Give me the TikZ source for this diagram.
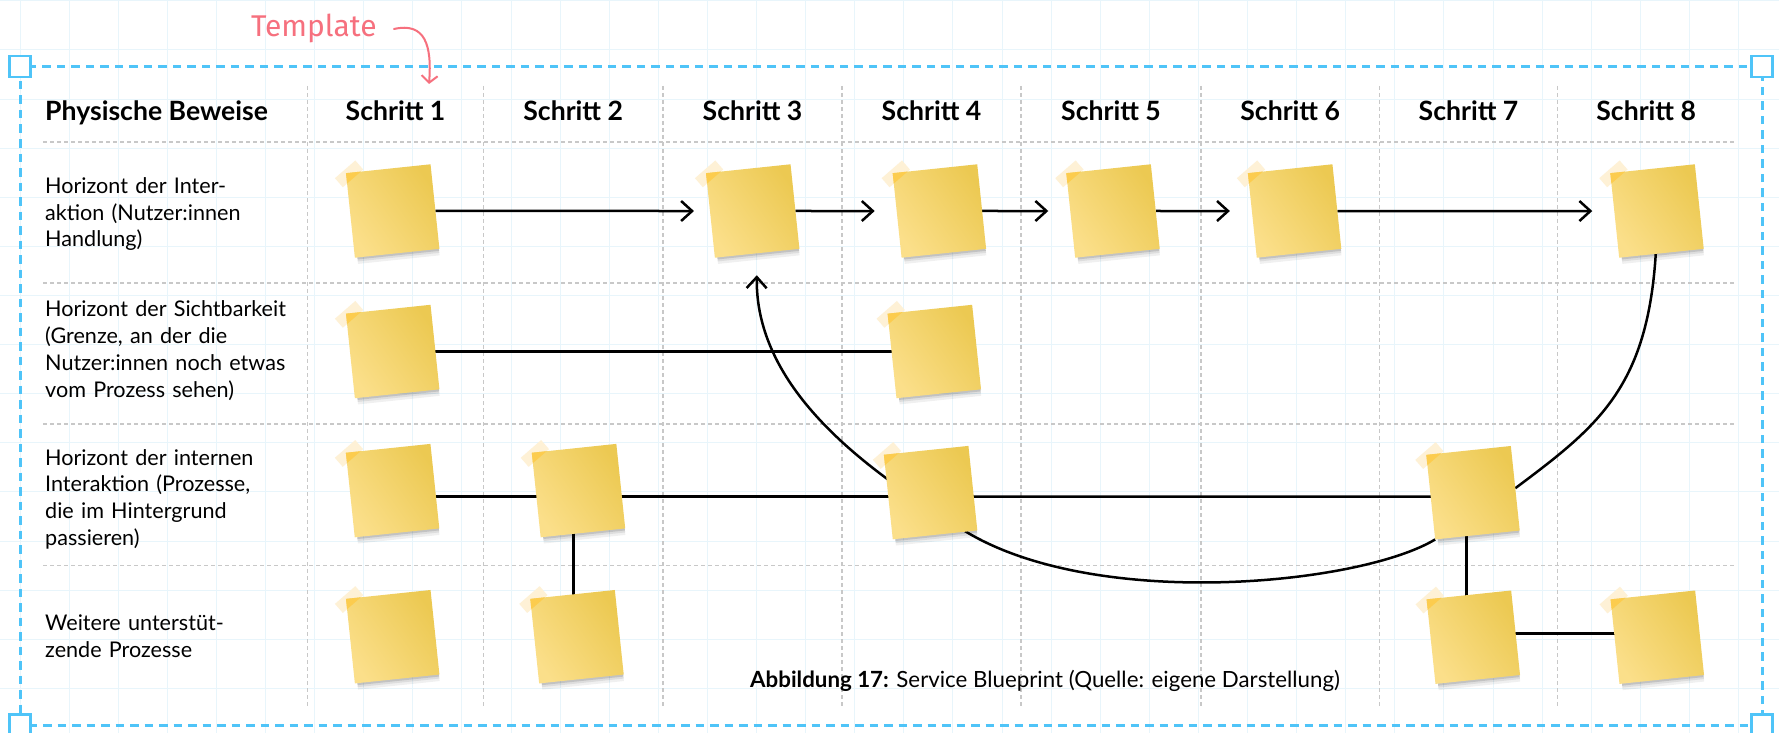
\documentclass[tikz,border=0pt]{standalone}
\usepackage{fontspec}
\setmainfont{Lato}
\newfontfamily\handfont{Fira Sans}
\usetikzlibrary{arrows.meta}

\pgfdeclarelayer{paper}
\pgfdeclarelayer{links}
\pgfsetlayers{paper,links,main}

\definecolor{gridblue}{RGB}{232,245,251}
\definecolor{frameblue}{RGB}{79,196,248}
\definecolor{rulegray}{RGB}{200,200,200}
\definecolor{notelight}{RGB}{251,223,138}
\definecolor{notedark}{RGB}{236,201,82}
\definecolor{tapepale}{RGB}{254,241,214}
\definecolor{tapedeep}{RGB}{252,204,78}
\definecolor{inkpink}{RGB}{246,112,126}

\tikzset{
  gridline/.style={gridblue, line width=1pt},
  rule/.style={rulegray, line width=1.2pt, dash pattern=on 4pt off 3pt},
  framebox/.style={frameblue, line width=3pt, dash pattern=on 8.5pt off 6pt},
  handle/.style={draw=frameblue, line width=2.5pt, fill=white, minimum size=21pt, inner sep=0pt},
  note/.style={minimum size=85pt, inner sep=0pt, outer sep=0pt,
    bottom color=notelight, top color=notedark, shading angle=-55, rotate=6},
  link/.style={black, line width=2.5pt},
  flow/.style={link, -{Straight Barb[length=11pt,width=20pt]}, shorten >=22pt},
  head/.style={font=\bfseries\fontsize{26.6}{30}\selectfont, inner sep=0pt, anchor=base},
  lane/.style={font=\fontsize{21.6}{26.8}\selectfont, inner sep=0pt, anchor=base west,
    text width=280pt, align=left},
}

% a sticky note: soft shadow, a strip of tape on its upper left corner
\newcommand\sticky[3]{%
  \begin{scope}[shift={(#2,#3)}, rotate=6]
    \fill[black, opacity=0.06] (-40,38) rectangle (42,49);
    \fill[black, opacity=0.08] (-40,38) rectangle (42,46.5);
    \fill[black, opacity=0.12] (-40,38) rectangle (42,44.5);
    \fill[tapepale, rotate around={35:(-39.5,-41.5)}] (-53,-47.5) rectangle (-26,-35.5);
  \end{scope}
  \node[note] (#1) at (#2,#3) {};
  \begin{scope}[shift={(#2,#3)}, rotate=6]
    \clip (-42.5,-42.5) rectangle (42.5,42.5);
    \fill[tapedeep, rotate around={35:(-39.5,-41.5)}] (-53,-47.5) rectangle (-26,-35.5);
  \end{scope}
}

\begin{document}
\begin{tikzpicture}[x=1pt, y=-1pt]
\useasboundingbox (0,0) rectangle (1779,733);

\begin{pgfonlayer}{paper}
  \fill[white] (0,0) rectangle (1779,733);
  % background grid
  \foreach \i in {0,...,36} \draw[gridline] (20+49.1*\i,0) -- ++(0,733);
  \foreach \j in {0,...,15} \draw[gridline] (0,0.9+49.1*\j) -- ++(1779,0);
  % table rules
  \foreach \y in {142,283,424,565.3} \draw[rule] (43,\y) -- (1735,\y);
  \foreach \x in {307.5,483.5,663,842,1021,1201,1379.5,1557.5} \draw[rule] (\x,86) -- (\x,707);
  % selection frame
  \draw[framebox] (20,66.5) rectangle (1762,725);
\end{pgfonlayer}

\node[handle] (hnw) at (20,66.5) {};
\node[handle] (hne) at (1762,66.5) {};
\node[handle] (hsw) at (20,725) {};
\node[handle] (hse) at (1762,725) {};

% header row
\node[head, anchor=base west] (hd0) at (45,120.7) {Physische Beweise};
\node[head] (hd1) at (395.5,120.7) {Schritt 1};
\node[head] (hd2) at (573.2,120.7) {Schritt 2};
\node[head] (hd3) at (752.5,120.7) {Schritt 3};
\node[head] (hd4) at (931.5,120.7) {Schritt 4};
\node[head] (hd5) at (1111,120.7) {Schritt 5};
\node[head] (hd6) at (1290.2,120.7) {Schritt 6};
\node[head] (hd7) at (1468.5,120.7) {Schritt 7};
\node[head] (hd8) at (1646.2,120.7) {Schritt 8};

% lane labels
\node[lane] (lb1) at (45,193.3) {Horizont der Inter-\\aktion (Nutzer:innen\\Handlung)};
\node[lane] (lb2) at (45,316.7) {Horizont der Sichtbarkeit\\(Grenze, an der die\\Nutzer:innen noch etwas\\vom Prozess sehen)};
\node[lane] (lb3) at (45,465) {Horizont der internen\\Interaktion (Prozesse,\\die im Hintergrund\\passieren)};
\node[lane] (lb4) at (45,630.7) {Weitere unterstüt-\\zende Prozesse};

% notes
\sticky{n11}{392.7}{211}
\sticky{n13}{752.7}{211}
\sticky{n14}{939.4}{211}
\sticky{n15}{1113}{211}
\sticky{n16}{1294.6}{211}
\sticky{n18}{1657}{211}
\sticky{n21}{392.7}{351.5}
\sticky{n24}{934.3}{351.5}
\sticky{n31}{392.6}{490.6}
\sticky{n32}{578.5}{490.6}
\sticky{n34}{930.6}{492.6}
\sticky{n37}{1473}{492.7}
\sticky{n41}{392.7}{636.7}
\sticky{n42}{577}{636.7}
\sticky{n47}{1473.3}{637.2}
\sticky{n48}{1657.3}{637.2}

% caption
\node[anchor=base west, inner sep=0pt, font=\fontsize{22.3}{26}\selectfont] (cap) at (750,687.5)
  {\textbf{Abbildung 17:} Service Blueprint (Quelle: eigene Darstellung)};

% handwritten marker
\node[anchor=base west, inner sep=0pt, text=inkpink, font=\handfont\fontsize{30}{30}\selectfont] (tpl) at (251,37) {Template};
\coordinate (tplend) at (429,84);
\draw[inkpink, line width=2pt, line cap=round, -{Straight Barb[length=7pt,width=16pt]}]
  (394,29) .. controls (425,22) and (432,45) .. (tplend);

% connectors, kept beneath the notes
\begin{pgfonlayer}{links}
  \draw[flow, shorten >=16pt] (n11) -- (n13);
  \draw[flow] (n13) -- (n14);
  \draw[flow] (n14) -- (n15);
  \draw[flow] (n15) -- (n16);
  \draw[flow] (n16) -- (n18);
  \draw[link] (n21.center) -- (n24.center);
  \draw[link] ([yshift=-6.1pt]n31.center) -- ([yshift=-6.1pt]n32.center);
  \draw[link] ([yshift=-6.1pt]n32.center) -- ([yshift=-4.1pt]n34.center);
  \draw[link] ([yshift=-4.1pt]n34.center) -- ([yshift=-4pt]n37.center);
  \draw[link] ([yshift=3.9pt]n47.center) -- ([yshift=3.9pt]n48.center);
  \draw[link] ([xshift=-5.2pt]n32.center) -- ([xshift=-3.7pt]n42.center);
  \draw[link] ([xshift=-6.3pt]n37.center) -- ([xshift=-6.6pt]n47.center);
  \draw[link] (n18.center) .. controls (1657,381) and (1605,421) .. (n37.east);
  \draw[link, -{Straight Barb[length=11pt,width=20pt]}, shorten >=22pt]
    (n37.south west) .. controls (1360,585) and (1090,612) .. (960,528)
    .. controls (890,483) and (755,400) .. (n13.south);
\end{pgfonlayer}
\end{tikzpicture}
\end{document}
